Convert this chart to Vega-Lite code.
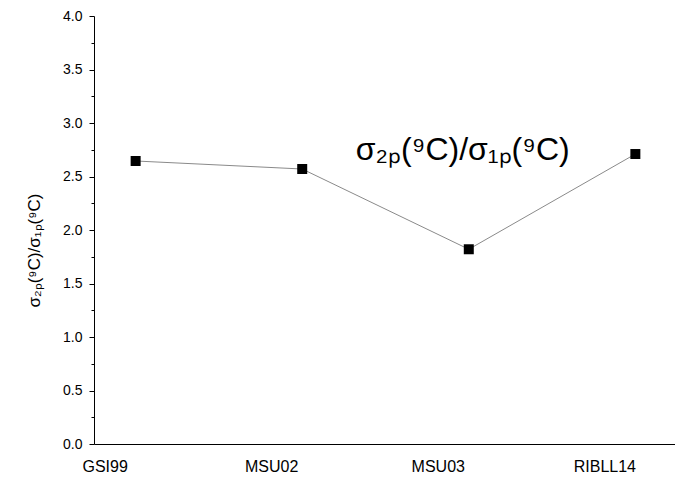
{
  "$schema": "https://vega.github.io/schema/vega-lite/v6.json",
  "width": 583,
  "height": 428,
  "autosize": "none",
  "padding": {"left": 94, "top": 16, "right": 0, "bottom": 45},
  "background": "white",
  "config": {"view": {"stroke": null}, "font": "Liberation Sans"},
  "data": {"values": [
    {"exp": "GSI99", "ratio": 2.645},
    {"exp": "MSU02", "ratio": 2.57},
    {"exp": "MSU03", "ratio": 1.82},
    {"exp": "RIBLL14", "ratio": 2.71}
  ]},
  "encoding": {
    "x": {"field": "exp", "type": "nominal", "sort": null,
      "scale": {"type": "point", "padding": 0.25},
      "axis": {"title": null, "labelAngle": 0, "ticks": false, "domainColor": "black", "domainWidth": 1,
        "labelFont": "Liberation Sans", "labelFontSize": 16, "labelColor": "black", "labelPadding": 14, "labelOffset": -31, "grid": false}},
    "y": {"field": "ratio", "type": "quantitative",
      "scale": {"domain": [0, 4], "nice": false, "zero": true},
      "axis": {"title": "σ₂ₚ(⁹C)/σ₁ₚ(⁹C)", "titleFont": "Liberation Sans", "titleFontSize": 17, "titleFontWeight": "normal", "titleColor": "black", "titlePadding": 19, "titleY": 234,
        "values": [0, 0.25, 0.5, 0.75, 1, 1.25, 1.5, 1.75, 2, 2.25, 2.5, 2.75, 3, 3.25, 3.5, 3.75, 4],
        "labelExpr": "datum.value % 0.5 == 0 ? format(datum.value, '.1f') : ''",
        "labelOverlap": false, "labelBound": false,
        "labelFont": "Liberation Sans", "labelFontSize": 14, "labelColor": "black", "labelPadding": 7,
        "tickSize": {"condition": {"test": "datum.value % 0.5 == 0", "value": 5}, "value": 3},
        "tickColor": "black", "domainColor": "black", "grid": false}}
  },
  "layer": [
    {"mark": {"type": "line", "color": "#8a8a8a", "strokeWidth": 1}},
    {"mark": {"type": "point", "shape": "square", "filled": true, "color": "black", "size": 100, "opacity": 1}},
    {"data": {"values": [{"exp": "MSU03", "ratio": 2.75, "label": "σ₂ₚ(⁹C)/σ₁ₚ(⁹C)"}]},
      "mark": {"type": "text", "font": "Liberation Sans", "fontSize": 32, "color": "black", "align": "center", "dx": -6, "baseline": "middle"},
      "encoding": {"text": {"field": "label"}}}
  ]
}
